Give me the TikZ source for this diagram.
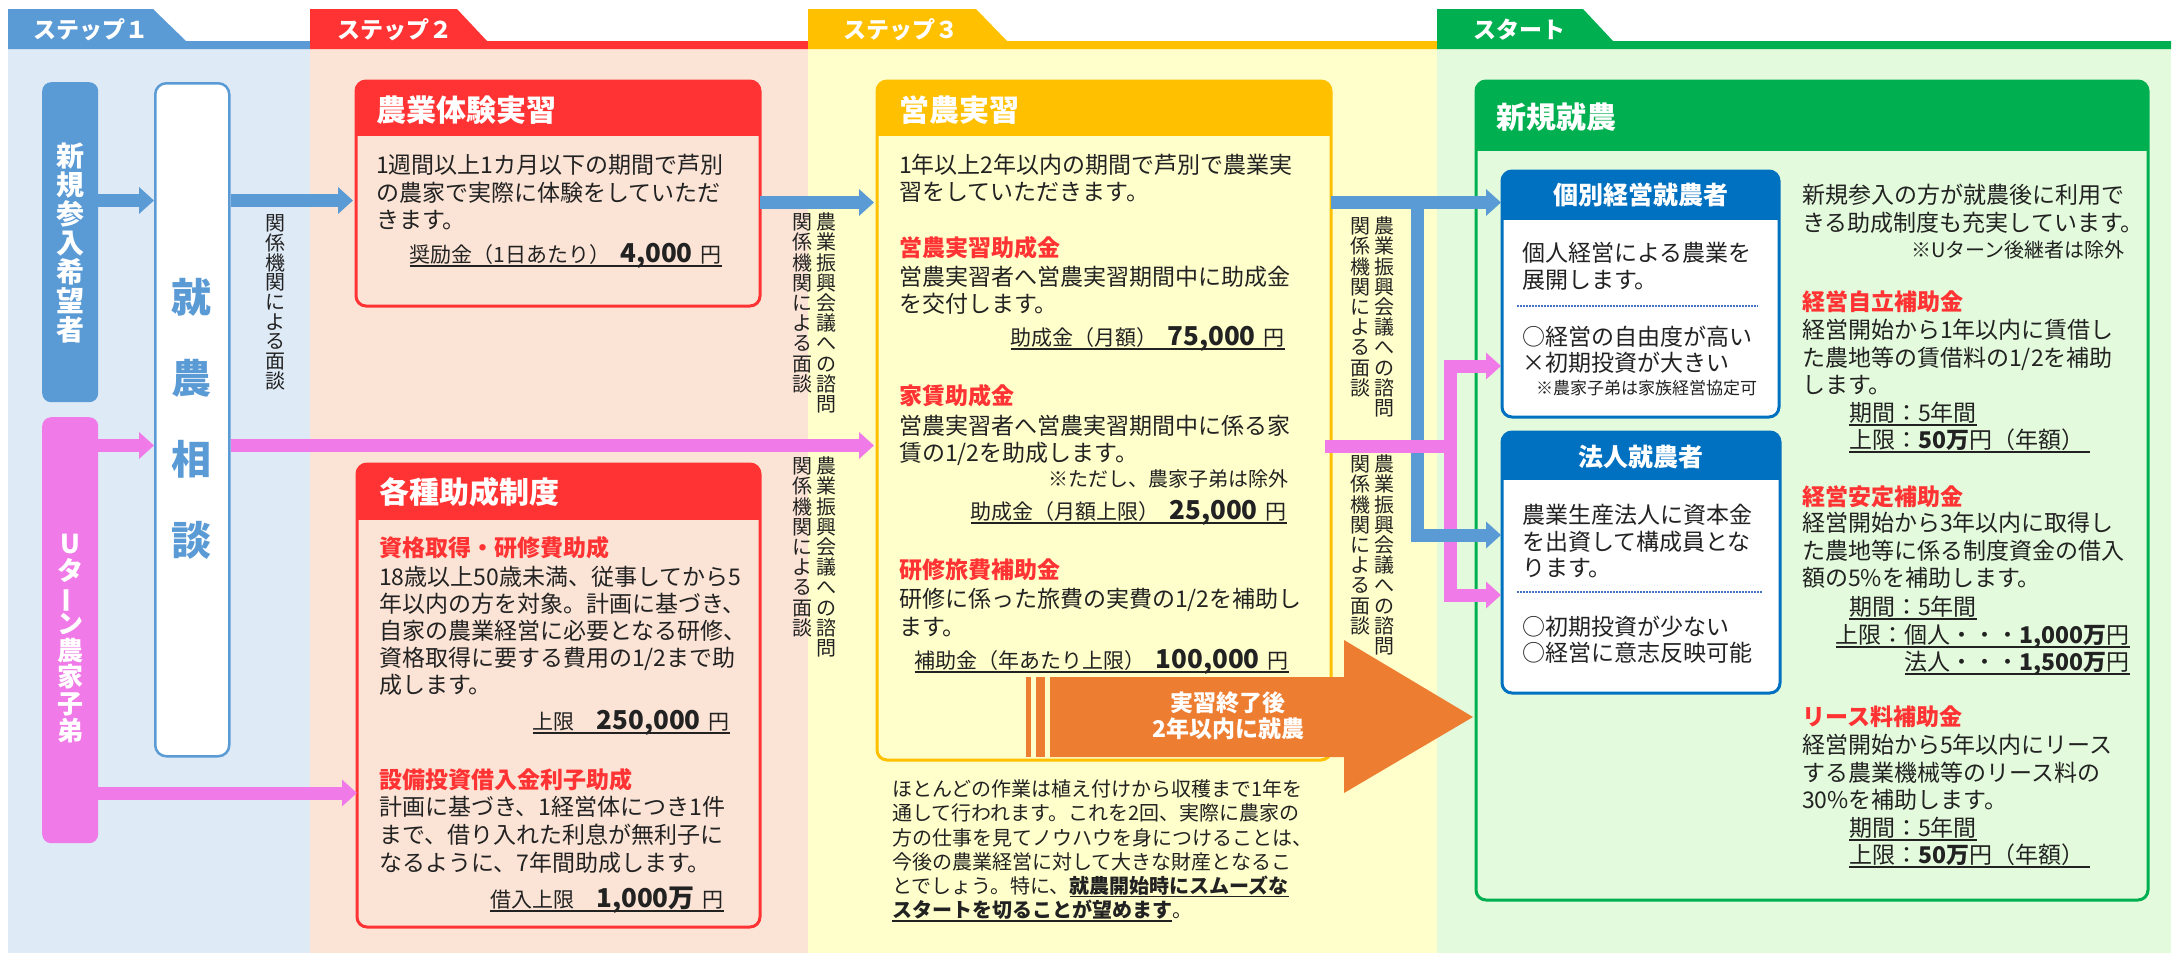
\documentclass[tikz,border=0pt]{standalone}
\usepackage{fontspec}
\setmainfont{Noto Sans CJK JP}
\usepackage{graphicx}
\usetikzlibrary{arrows.meta}
\definecolor{s1}{HTML}{5B9BD5}
\definecolor{s1bg}{HTML}{DEEAF6}
\definecolor{s2}{HTML}{FF3333}
\definecolor{s2bg}{HTML}{FBE4D6}
\definecolor{s3}{HTML}{FFC000}
\definecolor{s3bg}{HTML}{FFFFCC}
\definecolor{s4}{HTML}{00B050}
\definecolor{s4bg}{HTML}{E3FBDC}
\definecolor{pk}{HTML}{F07AE8}
\definecolor{orng}{HTML}{ED7D31}
\definecolor{dblue}{HTML}{0070C0}
\definecolor{dotb}{HTML}{4472C4}
\definecolor{txt}{HTML}{222222}
\definecolor{redt}{HTML}{FF3333}
\newcommand\Lnl[2]{\vtop{\lineskiplimit=-1000pt\baselineskip=#1pt\relax\let\\\cr\halign{##\hfil\cr#2\crcr}}}
\newcommand\Lnr[2]{\vtop{\lineskiplimit=-1000pt\baselineskip=#1pt\relax\let\\\cr\halign{\hfil##\cr#2\crcr}}}
\newcommand\Lnc[2]{\vtop{\lineskiplimit=-1000pt\baselineskip=#1pt\relax\let\\\cr\halign{\hfil##\hfil\cr#2\crcr}}}
\newcommand\myul[1]{\setbox0=\hbox{#1}\leavevmode\rlap{\rule[-4pt]{\wd0}{1.8pt}}\box0}
\newcommand\nb[1]{{\bfseries\fontsize{26}{26}\selectfont #1}}
\newcommand\vbar{\rotatebox[origin=c]{90}{ー}}
\newcommand\panel[8]{%
  \node[anchor=north west, inner sep=0pt, outer sep=0pt, minimum width={(#4)-(#2)}, minimum height={(#5)-(#3)}, fill=#8, rounded corners=10pt] (#1) at (#2,#3) {};
  \begin{scope}
    \clip[rounded corners=10pt] (#2,#3) rectangle (#4,#5);
    \fill[#7] (#2,#3) rectangle (#4,#6);
  \end{scope}
  \draw[#7, line width=3pt, rounded corners=10pt] (#2,#3) rectangle (#4,#5);
}
\begin{document}
\begin{tikzpicture}[x=1pt,y=-1pt,
  bt/.style={inner sep=0pt, anchor=base west, text=txt, font=\fontsize{23}{27.5}\selectfont},
  rh/.style={inner sep=0pt, anchor=base west, text=redt, font=\bfseries\fontsize{23}{27.5}\selectfont},
  hd/.style={inner sep=0pt, anchor=base west, text=white, font=\bfseries\fontsize{30}{30}\selectfont},
  hdc/.style={inner sep=0pt, anchor=base, text=white, font=\bfseries\fontsize{25}{25}\selectfont},
  tabt/.style={inner sep=0pt, anchor=base west, text=white, font=\bfseries\fontsize{23}{23}\selectfont},
  vtx/.style={inner sep=0pt, anchor=base, text=txt, font=\fontsize{20}{20}\selectfont},
  amt/.style={inner sep=0pt, anchor=base east, text=txt, font=\fontsize{21}{24}\selectfont},
  smt/.style={inner sep=0pt, text=txt, font=\fontsize{20}{24}\selectfont},
  barrow/.style={draw=s1, line width=13pt, -{Triangle[length=15pt,width=26pt]}},
  bline/.style={draw=s1, line width=13pt},
  parrow/.style={draw=pk, line width=13pt, -{Triangle[length=15pt,width=26pt]}},
  pline/.style={draw=pk, line width=13pt},
  dotl/.style={draw=dotb, line width=2pt, dash pattern=on 1.5pt off 1.5pt}
]
\useasboundingbox (0,0) rectangle (2179,953);
% column backgrounds
\fill[s1bg] (8,49) rectangle (310,953);
\fill[s2bg] (310,49) rectangle (808,953);
\fill[s3bg] (808,49) rectangle (1437,953);
\fill[s4bg] (1437,49) rectangle (2171,953);
% tabs
\fill[s1] (8,9) -- (153,9) -- (186,41) -- (310,41) -- (310,49) -- (8,49) -- cycle;
\fill[s2] (310,9) -- (457,9) -- (487,41) -- (808,41) -- (808,49) -- (310,49) -- cycle;
\fill[s3] (808,9) -- (976,9) -- (1007,41) -- (1437,41) -- (1437,49) -- (808,49) -- cycle;
\fill[s4] (1437,9) -- (1583,9) -- (1613,41) -- (2171,41) -- (2171,49) -- (1437,49) -- cycle;
\node[tabt] (tab1) at (33,38.7) {ステップ１};
\node[tabt] (tab2) at (337,38.7) {ステップ２};
\node[tabt] (tab3) at (843,38.7) {ステップ３};
\node[tabt] (tab4) at (1473,38.7) {スタート};

% step 1
\node[anchor=north west, inner sep=0pt, minimum width=56, minimum height=320, fill=s1, rounded corners=9pt] (shinki) at (42,82) {};
\node[anchor=north west, inner sep=0pt, minimum width=56, minimum height=426, fill=pk, rounded corners=9pt] (uturn) at (42,417) {};
\node[anchor=north west, inner sep=0pt, minimum width=74, minimum height=673, fill=white, draw=s1, line width=2.5pt, rounded corners=11pt] (soudan) at (154,82) {};
\node[inner sep=0pt, anchor=base, text=white, font=\bfseries\fontsize{28}{28}\selectfont] (shinkiT) at (70,166.6) {\Lnc{29}{新\\規\\参\\入\\希\\望\\者}};
\node[inner sep=0pt, anchor=base, text=white, font=\bfseries\fontsize{26}{26}\selectfont] (uturnT) at (70,553.9) {\Lnc{26.6}{U\\タ\\\vbar\\ン\\農\\家\\子\\弟}};
\node[inner sep=0pt, anchor=base, text=s1, font=\bfseries\fontsize{40}{40}\selectfont] (soudanT) at (191,312.2) {\Lnc{81}{就\\農\\相\\談}};
\node[vtx] (v1) at (275,230.6) {\Lnc{19.7}{関\\係\\機\\関\\に\\よ\\る\\面\\談}};

% step 2 panels
\panel{taiken}{356}{81}{760}{306}{136}{s2}{s2bg}
\panel{kakushu}{357}{464}{760}{927}{520}{s2}{s2bg}
\node[hd] (taikenH) at (376,121.4) {農業体験実習};
\node[bt] (taikenB) at (376,173.7) {\Lnl{27.5}{1週間以上1カ月以下の期間で芦別\\の農家で実際に体験をしていただ\\きます。}};
\node[amt] (am1) at (722,262.6) {\myul{奨励金（1日あたり）\hspace{10pt}\nb{4,000}\hspace{8pt}円}};
\node[hd] (kakushuH) at (379,503.4) {各種助成制度};
\node[rh] (r1) at (379,556.7) {資格取得・研修費助成};
\node[bt] (b1) at (379,585.7) {\Lnl{27}{18歳以上50歳未満、従事してから5\\年以内の方を対象。計画に基づき、\\自家の農業経営に必要となる研修、\\資格取得に要する費用の1/2まで助\\成します。}};
\node[amt] (am2) at (730,729.6) {\myul{上限\hspace{22pt}\nb{250,000}\hspace{8pt}円}};
\node[rh] (r2) at (379,788.7) {設備投資借入金利子助成};
\node[bt] (b2) at (379,815.7) {\Lnl{28}{計画に基づき、1経営体につき1件\\まで、借り入れた利息が無利子に\\なるように、7年間助成します。}};
\node[amt] (am3) at (724,907.6) {\myul{借入上限\hspace{22pt}\nb{1,000万}\hspace{8pt}円}};

% vertical labels between step 2 and 3
\node[vtx] (v2) at (802,229.6) {\Lnc{20.2}{関\\係\\機\\関\\に\\よ\\る\\面\\談}};
\node[vtx] (v3) at (826,229.6) {\Lnc{20.2}{農\\業\\振\\興\\会\\議\\へ\\の\\諮\\問}};
\node[vtx] (v4) at (802,473.6) {\Lnc{20.2}{関\\係\\機\\関\\に\\よ\\る\\面\\談}};
\node[vtx] (v5) at (826,473.6) {\Lnc{20.2}{農\\業\\振\\興\\会\\議\\へ\\の\\諮\\問}};

% step 3 panel
\panel{eino}{877}{81}{1331}{760}{136}{s3}{s3bg}
\node[hd] (einoH) at (899,121.4) {営農実習};
\node[bt] (e0) at (899,173.7) {\Lnl{27}{1年以上2年以内の期間で芦別で農業実\\習をしていただきます。}};
\node[rh] (er1) at (899,256.7) {営農実習助成金};
\node[bt] (e1) at (899,285.7) {\Lnl{26.5}{営農実習者へ営農実習期間中に助成金\\を交付します。}};
\node[amt] (am4) at (1285,345.6) {\myul{助成金（月額）\hspace{10pt}\nb{75,000}\hspace{8pt}円}};
\node[rh] (er2) at (899,404.7) {家賃助成金};
\node[bt] (e2) at (899,434.7) {\Lnl{27}{営農実習者へ営農実習期間中に係る家\\賃の1/2を助成します。}};
\node[smt, anchor=base east] (e2n) at (1289,486.6) {※ただし、農家子弟は除外};
\node[amt] (am5) at (1287,519.6) {\myul{助成金（月額上限）\hspace{10pt}\nb{25,000}\hspace{8pt}円}};
\node[rh] (er3) at (899,578.7) {研修旅費補助金};
\node[bt] (e3) at (899,607.7) {\Lnl{28}{研修に係った旅費の実費の1/2を補助し\\ます。}};
\node[amt] (am6) at (1289,668.6) {\myul{補助金（年あたり上限）\hspace{10pt}\nb{100,000}\hspace{8pt}円}};
\node[smt, anchor=base west] (para) at (892,796.6) {\Lnl{24.2}{ほとんどの作業は植え付けから収穫まで1年を\\通して行われます。これを2回、実際に農家の\\方の仕事を見てノウハウを身につけることは、\\今後の農業経営に対して大きな財産となるこ\\とでしょう。特に、\myul{\bfseries 就農開始時にスムーズな}\\\myul{\bfseries スタートを切ることが望めます}。}};

% orange arrow
\fill[orng] (1026,677) rectangle (1031,757);
\fill[orng] (1036,677) rectangle (1045,757);
\fill[orng] (1050,677) -- (1344,677) -- (1344,640) -- (1473,717) -- (1344,793) -- (1344,757) -- (1050,757) -- cycle;
\node[inner sep=0pt, anchor=base, text=white, font=\bfseries\fontsize{23}{23}\selectfont] (owari) at (1228,711.7) {\Lnc{26}{実習終了後\\2年以内に就農}};

% vertical labels between step 3 and start
\node[vtx] (v6) at (1360,233.6) {\Lnc{20.2}{関\\係\\機\\関\\に\\よ\\る\\面\\談}};
\node[vtx] (v7) at (1384,233.6) {\Lnc{20.2}{農\\業\\振\\興\\会\\議\\へ\\の\\諮\\問}};
\node[vtx] (v8) at (1360,471.6) {\Lnc{20.2}{関\\係\\機\\関\\に\\よ\\る\\面\\談}};
\node[vtx] (v9) at (1384,471.6) {\Lnc{20.2}{農\\業\\振\\興\\会\\議\\へ\\の\\諮\\問}};

% start panels
\panel{shinno}{1476}{81}{2148}{900}{151}{s4}{s4bg}
\node[hd] (shinnoH) at (1496,128.4) {新規就農};
\panel{kobetsu}{1502}{171}{1779}{417}{220}{dblue}{white}
\panel{houjin}{1502}{432}{1780}{693}{480}{dblue}{white}
\node[hdc] (kobetsuH) at (1640.5,204.5) {個別経営就農者};
\node[hdc] (houjinH) at (1641,466.5) {法人就農者};
\node[bt] (k1) at (1522,261.7) {\Lnl{27}{個人経営による農業を\\展開します。}};
\draw[dotl] (1517,306) -- (1758,306);
\node[bt] (k2) at (1522,345.7) {\Lnl{26}{○経営の自由度が高い\\×初期投資が大きい}};
\node[inner sep=0pt, anchor=base west, text=txt, font=\fontsize{17}{20}\selectfont] (k3) at (1536,394.5) {※農家子弟は家族経営協定可};
\node[bt] (h1) at (1522,523.7) {\Lnl{26.5}{農業生産法人に資本金\\を出資して構成員とな\\ります。}};
\draw[dotl] (1517,592) -- (1763,592);
\node[bt] (h2) at (1522,635.7) {\Lnl{26}{○初期投資が少ない\\○経営に意志反映可能}};

\node[bt] (s0) at (1802,203.7) {\Lnl{28}{新規参入の方が就農後に利用で\\きる助成制度も充実しています。}};
\node[smt, anchor=base east] (s0n) at (2125,257.6) {※Uターン後継者は除外};
\node[rh] (sr1) at (1802,310.7) {経営自立補助金};
\node[bt] (s1t) at (1802,338.7) {\Lnl{27.5}{経営開始から1年以内に賃借し\\た農地等の賃借料の1/2を補助\\します。}};
\node[bt] (s1a) at (1849,421.7) {\Lnl{27}{\myul{期間：5年間}\\\myul{上限：\textbf{50万}円（年額）\hspace{6pt}}}};
\node[rh] (sr2) at (1802,505.7) {経営安定補助金};
\node[bt] (s2t) at (1802,531.7) {\Lnl{27.5}{経営開始から3年以内に取得し\\た農地等に係る制度資金の借入\\額の5\%を補助します。}};
\node[bt] (s2a) at (1849,615.7) {\myul{期間：5年間}};
\node[bt, anchor=base east] (s2b) at (2130,643.7) {\Lnr{27}{\myul{上限：個人・・・\textbf{1,000万}円}\\\myul{法人・・・\textbf{1,500万}円}}};
\node[rh] (sr3) at (1802,725.7) {リース料補助金};
\node[bt] (s3t) at (1802,753.7) {\Lnl{27.5}{経営開始から5年以内にリース\\する農業機械等のリース料の\\30\%を補助します。}};
\node[bt] (s3a) at (1849,836.7) {\Lnl{27}{\myul{期間：5年間}\\\myul{上限：\textbf{50万}円（年額）\hspace{6pt}}}};

% connectors
\coordinate (yA) at (0,200.5);
\coordinate (yB) at (0,202.5);
\coordinate (yP) at (0,445.5);
\coordinate (yQ) at (0,793);
\coordinate (bj) at (1417,202.5);
\coordinate (bk) at (1417,535);
\coordinate (pj) at (1450,446);
\coordinate (pv1) at (1450,366);
\coordinate (pv2) at (1450,595);
\draw[barrow] (shinki.east |- yA) -- (soudan.west |- yA);
\draw[barrow] (soudan.east |- yA) -- ([xshift=-3pt]taiken.west |- yA);
\draw[barrow] (taiken.east |- yB) -- ([xshift=-3pt]eino.west |- yB);
\draw[barrow] (eino.east |- yB) -- ([xshift=-1pt]kobetsu.west |- yB);
\draw[bline, line cap=rect] (bj) -- (bk);
\draw[parrow] (uturn.east |- yP) -- (soudan.west |- yP);
\draw[parrow] (soudan.east |- yP) -- ([xshift=-3pt]eino.west |- yP);
\draw[parrow] (uturn.east |- yQ) -- (kakushu.west |- yQ);
\draw[pline, line cap=rect] (eino.east |- pj) -- (pj);
\draw[pline, line cap=rect] (pv1) -- (pv2);
\draw[parrow] ([xshift=-6.5pt]pv1) -- ([xshift=-1pt]kobetsu.west |- pv1);
\draw[parrow] ([xshift=-6.5pt]pv2) -- ([xshift=-1pt]houjin.west |- pv2);
\draw[barrow] ([xshift=-6.5pt]bk) -- ([xshift=-1pt]houjin.west |- bk);
\end{tikzpicture}
\end{document}
